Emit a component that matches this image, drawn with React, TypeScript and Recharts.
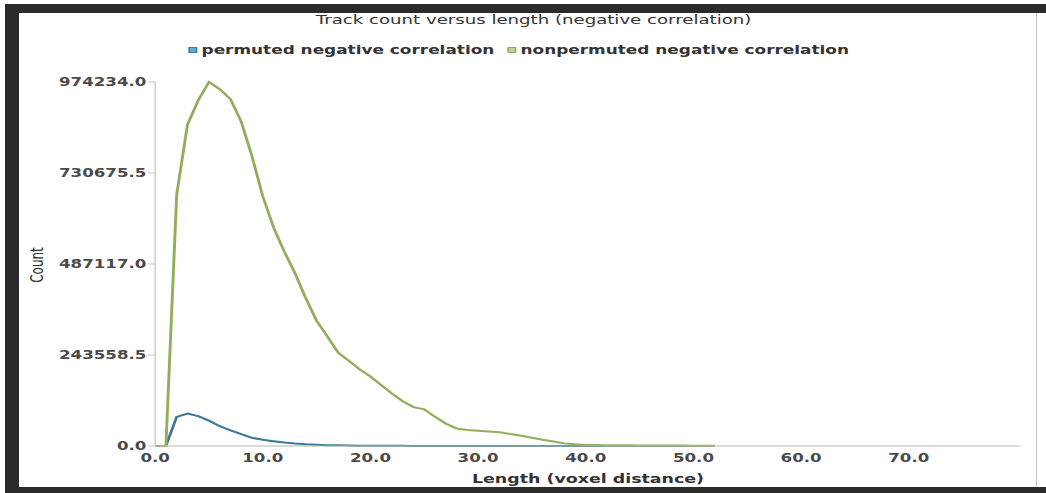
import React from 'react';
import { LineChart, Line, XAxis, YAxis } from 'recharts';

// ---- data ----
const lengths = [
  0, 1, 2, 3, 4, 5, 6, 7, 8, 9, 10, 11, 12, 13, 14, 15, 16, 17, 18, 19, 20,
  21, 22, 23, 24, 25, 26, 27, 28, 29, 30, 31, 32, 33, 34, 35, 36, 37, 38, 39,
  40, 41, 42, 43, 44, 45, 46, 47, 48, 49, 50, 51, 52,
];
const permuted = [
  0, 0, 78000, 87000, 80000, 68000, 53000, 42000, 31500, 22000, 16500, 13000,
  9500, 6500, 4500, 3200, 2300, 1700, 1200, 900, 700, 550, 450, 350, 300, 260,
  230, 200, 180, 160, 140, 120, 100, 90, 80, 70, 60, 50, 45, 40, 35, 30, 25,
  20, 18, 15, 12, 10, 8, 6, 4, 2, 0,
];
const nonpermuted = [
  0, 0, 672000, 860000, 925000, 974234, 955000, 928000, 868000, 775000, 668000,
  585000, 520000, 462000, 395000, 335000, 293000, 250000, 228000, 205000,
  186000, 163000, 140000, 120000, 104000, 98000, 78000, 60000, 47000, 43000,
  41000, 39000, 37000, 32000, 27500, 22000, 16500, 12000, 7000, 4500, 3000,
  2500, 2200, 2000, 1800, 1600, 1500, 1400, 1300, 1200, 1000, 800, 500,
];
const yTicks = [0, 243558.5, 487117.0, 730675.5, 974234.0];
const xTicks = [0, 10, 20, 30, 40, 50, 60, 70];
const xMax = 80.4;
const yMax = 974234.0;

const titleText = 'Track count versus length (negative correlation)';
const seriesNames = ['permuted negative correlation', 'nonpermuted negative correlation'];
const xLabel = 'Length (voxel distance)';
const yLabel = 'Count';

const data = lengths.map((x, i) => ({
  length: x,
  permuted: permuted[i],
  nonpermuted: nonpermuted[i],
}));

// ---- styling ----
const S = 1.45; // the reference is stretched horizontally
const CW = 721;
const CH = 493;
const FONT = '"DejaVu Sans", Verdana, sans-serif';
const BLUE = '#3d7a98';
const GREEN = '#92ad5e';

const YTick = (props: any) => {
  const { x, y, payload } = props;
  return (
    <text
      x={x - 1}
      y={y}
      textAnchor="end"
      dominantBaseline="central"
      fontFamily={FONT}
      fontWeight="bold"
      fontSize={11.5}
      fill="#4a4a4a"
    >
      {Number(payload.value).toFixed(1)}
    </text>
  );
};

const XTick = (props: any) => {
  const { x, y, payload } = props;
  return (
    <text
      x={x}
      y={y + 12}
      textAnchor="middle"
      dominantBaseline="central"
      fontFamily={FONT}
      fontWeight="bold"
      fontSize={11.5}
      fill="#4a4a4a"
    >
      {Number(payload.value).toFixed(1)}
    </text>
  );
};

const abs = (extra: React.CSSProperties): React.CSSProperties => ({
  position: 'absolute',
  whiteSpace: 'nowrap',
  lineHeight: 1,
  fontFamily: FONT,
  ...extra,
});

export default function App() {
  return (
    <div
      style={{
        position: 'absolute',
        left: 0,
        top: 0,
        width: 1046,
        height: 493,
        background: '#ffffff',
        overflow: 'hidden',
      }}
    >
      <div
        style={{
          position: 'absolute',
          left: 0,
          top: 0,
          width: CW,
          height: CH,
          transform: `scaleX(${S})`,
          transformOrigin: '0 0',
        }}
      >
        <LineChart
          width={CW}
          height={CH}
          data={data}
          margin={{ top: 82, right: 17, bottom: 0, left: 0 }}
        >
          <XAxis
            dataKey="length"
            type="number"
            domain={[0, xMax]}
            ticks={xTicks}
            height={47}
            tickLine={false}
            tickSize={0}
            tickMargin={0}
            tick={<XTick />}
            axisLine={{ stroke: '#b5bca8', strokeWidth: 1 }}
          />
          <YAxis
            type="number"
            domain={[0, yMax]}
            ticks={yTicks}
            width={107}
            tickSize={5}
            tickMargin={0}
            tick={<YTick />}
            tickLine={{ stroke: '#c8c8c8' }}
            axisLine={{ stroke: '#c8c8c8', strokeWidth: 1 }}
          />
          <Line
            type="linear"
            dataKey="permuted"
            stroke={BLUE}
            strokeWidth={2}
            dot={false}
            isAnimationActive={false}
          />
          <Line
            type="linear"
            dataKey="nonpermuted"
            stroke={GREEN}
            strokeWidth={2}
            dot={false}
            isAnimationActive={false}
          />
        </LineChart>

        {/* title */}
        <div
          style={abs({
            left: 368,
            top: 20,
            transform: 'translate(-50%, -50%)',
            fontSize: 12.5,
            color: '#333',
          })}
        >
          {titleText}
        </div>

        {/* legend */}
        <div
          style={abs({
            left: 130,
            top: 47,
            width: 6,
            height: 6,
            background: '#5aaed0',
            border: `1px solid ${BLUE}`,
            boxSizing: 'border-box',
          })}
        />
        <div
          style={abs({
            left: 139,
            top: 51,
            transform: 'translateY(-50%)',
            fontSize: 11.66,
            fontWeight: 'bold',
            color: '#333',
          })}
        >
          {seriesNames[0]}
        </div>
        <div
          style={abs({
            left: 350,
            top: 47,
            width: 6,
            height: 6,
            background: '#bcd49a',
            border: `1px solid ${GREEN}`,
            boxSizing: 'border-box',
          })}
        />
        <div
          style={abs({
            left: 359,
            top: 51,
            transform: 'translateY(-50%)',
            fontSize: 11.66,
            fontWeight: 'bold',
            color: '#333',
          })}
        >
          {seriesNames[1]}
        </div>

        {/* axis labels */}
        <div
          style={abs({
            left: 405.5,
            top: 479,
            transform: 'translate(-50%, -50%)',
            fontSize: 12,
            fontWeight: 'bold',
            color: '#333',
          })}
        >
          {xLabel}
        </div>
        <div
          style={abs({
            left: 26,
            top: 265,
            transform: 'translate(-50%, -50%) rotate(-90deg)',
            fontSize: 12,
            color: '#333',
          })}
        >
          {yLabel}
        </div>
      </div>

      {/* dark frame of the screenshot */}
      <div style={{ position: 'absolute', left: 5, top: 4, width: 14, height: 489, background: '#2b2b2b' }} />
      <div style={{ position: 'absolute', left: 5, top: 4, width: 1041, height: 9, background: '#2b2b2b' }} />
      <div style={{ position: 'absolute', left: 5, top: 487, width: 1041, height: 6, background: '#2b2b2b' }} />
      <div style={{ position: 'absolute', left: 1036, top: 13, width: 1, height: 474, background: '#c4c4c4' }} />
    </div>
  );
}
